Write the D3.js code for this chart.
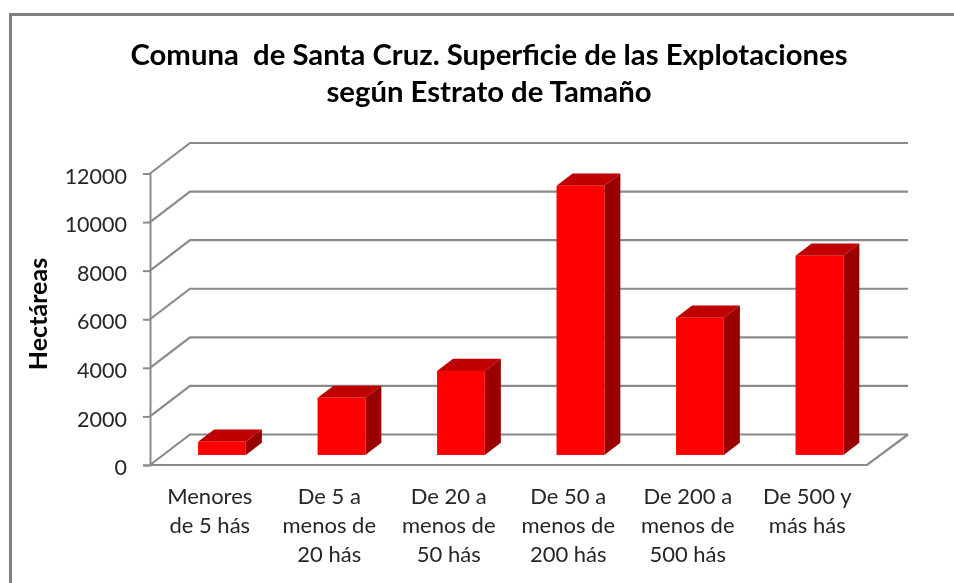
<!DOCTYPE html>
<html>
<head>
<meta charset="utf-8">
<script src="https://cdn.jsdelivr.net/npm/d3@7"></script>
<style>
html, body { margin: 0; padding: 0; background: #fff; overflow: hidden; }
svg { display: block; filter: blur(0.6px); }
text { font-family: Lato, "Open Sans", sans-serif; white-space: pre; }
</style>
</head>
<body>
<svg id="chart" width="954" height="583"></svg>
<script>
var categories = ["Menores de 5 hás", "De 5 a menos de 20 hás", "De 20 a menos de 50 hás",
    "De 50 a menos de 200 hás", "De 200 a menos de 500 hás", "De 500 y más hás"]
var categoryLines = [
    ["Menores", "de 5 hás"],
    ["De 5 a", "menos de", "20 hás"],
    ["De 20 a", "menos de", "50 hás"],
    ["De 50 a", "menos de", "200 hás"],
    ["De 200 a", "menos de", "500 hás"],
    ["De 500 y", "más hás"]
]
var hectares = [540, 2350, 3460, 11080, 5650, 8200]
var yTicks = [0, 2000, 4000, 6000, 8000, 10000, 12000]
var titleLines = ["Comuna  de Santa Cruz. Superficie de las Explotaciones", "según Estrato de Tamaño"]
var yLabel = "Hectáreas"

var svg = d3.select("#chart")
var root = svg.append("g")

// the plot is a front face plus a shifted back wall
var x = d3.scaleBand()
    .domain(categories)
    .range([149, 866])
    .paddingInner(0.6)
    .paddingOuter(0.3)

var y = d3.scaleLinear()
    .domain([0, 12000])
    .range([465, 173.5])

var depthX = 40, depthY = -30.5
var barStart = 0.33, barDepth = 0.4

// outer frame, only top and left survive the crop
root.append("path")
    .attr("d", "M10.5,590V14.5H960")
    .attr("fill", "none")
    .attr("stroke", "#808080")
    .attr("stroke-width", 3)

// gridlines on the back wall, with the slanted side wall lines
var grid = root.append("g")
    .attr("fill", "none")
    .attr("stroke", "#8a8a8a")
    .attr("stroke-width", 2.2)

grid.selectAll("path")
    .data(yTicks)
    .enter()
    .append("path")
    .attr("d", function (d) {
        return "M150," + y(d) + "L" + (150 + depthX) + "," + (y(d) + depthY) + "H908"
    })

// floor edges and the axis
grid.append("path")
    .attr("d", "M150," + y(0) + "H867L908," + (y(0) + depthY))

root.append("g")
    .attr("transform", "translate(150,0)")
    .call(d3.axisLeft(y).tickValues(yTicks).tickFormat(d3.format("d")).tickSize(7).tickPadding(16))
    .call(function (g) {
        g.selectAll("line, path").attr("stroke", "#8a8a8a").attr("stroke-width", 2)
        g.selectAll("text").attr("fill", "#262626").attr("font-size", 21.5).attr("dy", "0.45em")
            .attr("font-family", "Lato, 'Open Sans', sans-serif")
    })

// bars: front, top and side faces
var dx0 = depthX * barStart, dy0 = depthY * barStart
var dx1 = depthX * barDepth, dy1 = depthY * barDepth

var bars = root.selectAll("g.bar")
    .data(hectares)
    .enter()
    .append("g")
    .attr("class", "bar")
    .attr("transform", "translate(" + dx0 + "," + dy0 + ")")

bars.append("path")
    .attr("fill", "#c00000")
    .attr("d", function (d, i) {
        var l = x(categories[i]), r = l + x.bandwidth(), t = y(d)
        return "M" + l + "," + t + "L" + (l + dx1) + "," + (t + dy1) + "H" + (r + dx1) + "L" + r + "," + t + "Z"
    })

bars.append("path")
    .attr("fill", "#990000")
    .attr("d", function (d, i) {
        var r = x(categories[i]) + x.bandwidth(), t = y(d), b = y(0)
        return "M" + r + "," + t + "L" + (r + dx1) + "," + (t + dy1) + "V" + (b + dy1) + "L" + r + "," + b + "Z"
    })

bars.append("rect")
    .attr("fill", "#ff0000")
    .attr("x", function (d, i) { return x(categories[i]) })
    .attr("y", function (d) { return y(d) })
    .attr("width", x.bandwidth())
    .attr("height", function (d) { return y(0) - y(d) })

// category labels
var labels = root.selectAll("text.cat")
    .data(categoryLines)
    .enter()
    .append("text")
    .attr("class", "cat")
    .attr("text-anchor", "middle")
    .attr("font-size", 22)
    .attr("fill", "#262626")

labels.selectAll("tspan")
    .data(function (d, i) {
        return d.map(function (line, k) { return {line: line, k: k, i: i} })
    })
    .enter()
    .append("tspan")
    .attr("x", function (d) { return x(categories[d.i]) + x.bandwidth() / 2 + 1 })
    .attr("y", function (d) { return 504 + d.k * 29 })
    .text(function (d) { return d.line })

// title
root.selectAll("text.title")
    .data(titleLines)
    .enter()
    .append("text")
    .attr("class", "title")
    .attr("text-anchor", "middle")
    .attr("x", 489)
    .attr("y", function (d, i) { return 65 + i * 37 })
    .attr("font-size", 29.3)
    .attr("font-weight", 700)
    .attr("fill", "#000")
    .text(function (d) { return d })

root.append("text")
    .attr("transform", "translate(47,314) rotate(-90)")
    .attr("text-anchor", "middle")
    .attr("font-size", 25)
    .attr("font-weight", 700)
    .attr("fill", "#000")
    .text(yLabel)
</script>
</body>
</html>
